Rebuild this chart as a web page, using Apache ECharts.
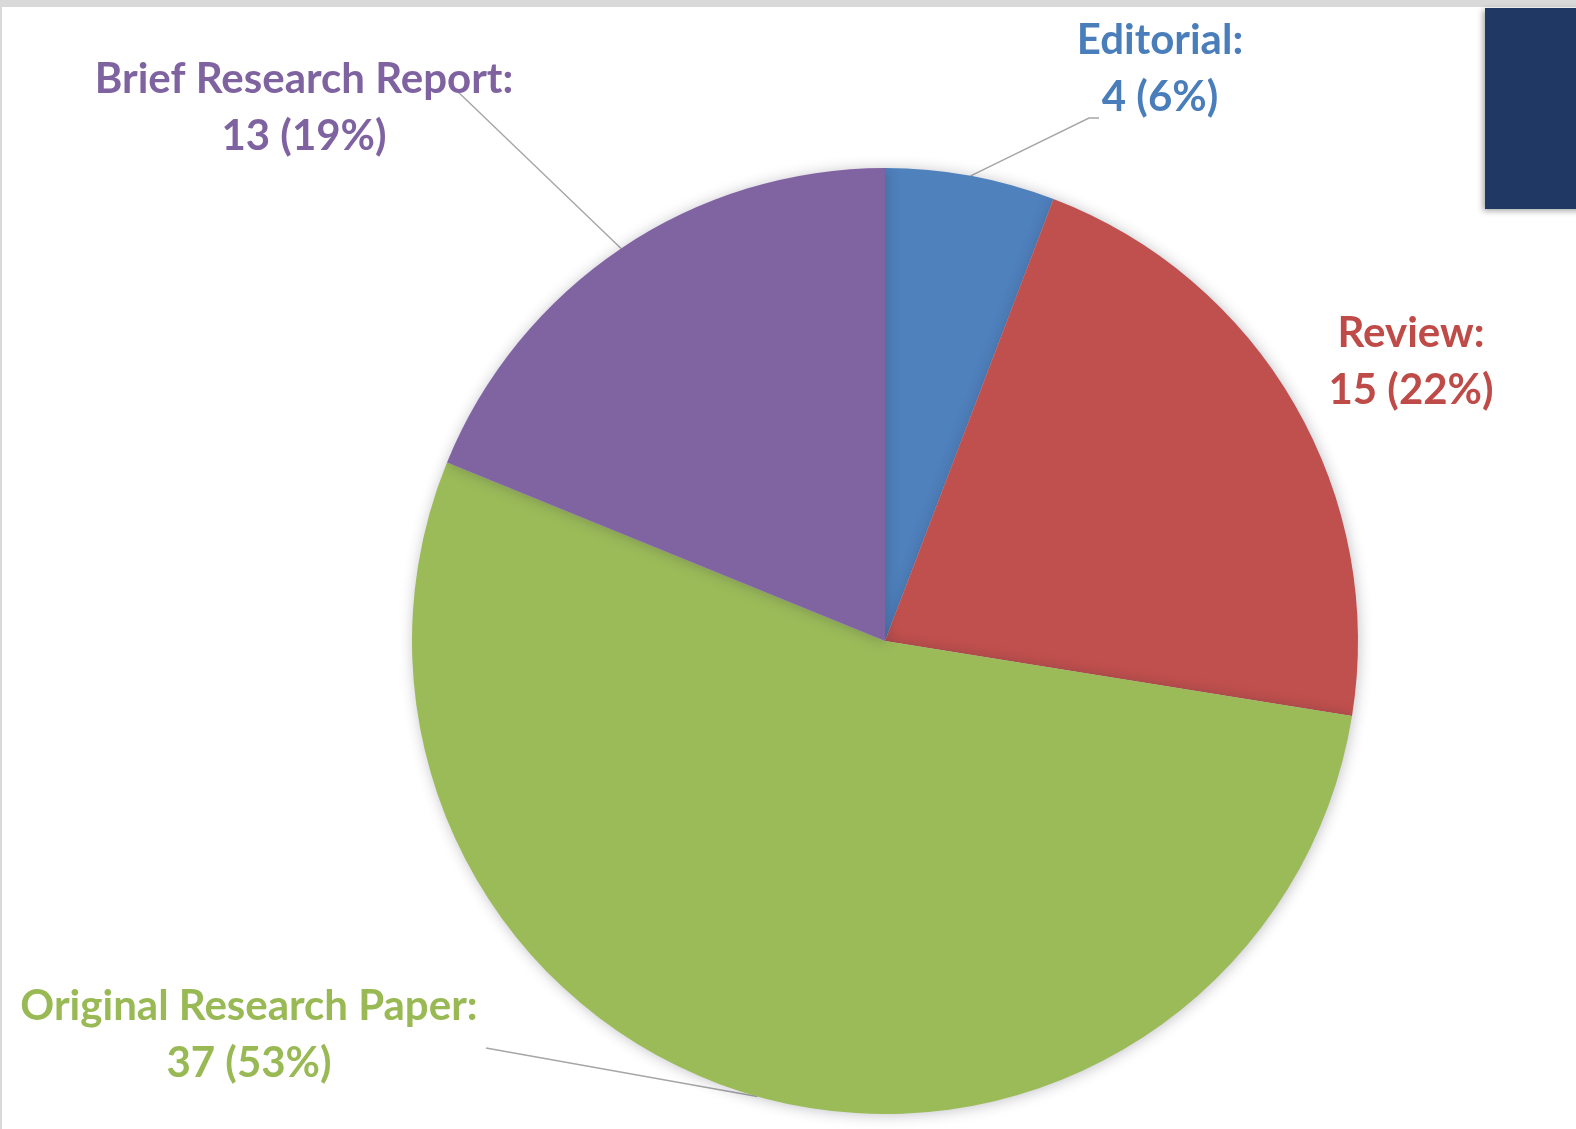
<!DOCTYPE html>
<html>
<head>
<meta charset="utf-8">
<title>Article types</title>
<script src="https://cdn.jsdelivr.net/npm/echarts@6/dist/echarts.min.js"></script>
<style>
  html, body { margin: 0; padding: 0; background: #ffffff; }
  #chart { width: 1576px; height: 1129px; }
</style>
</head>
<body>
<div id="chart"></div>
<script>
// Article types and counts, clockwise from 12 o'clock
const categories = ['Editorial', 'Review', 'Original Research Paper', 'Brief Research Report'];
const counts = [4, 15, 37, 13];

// Slice and label colours
const sliceColors = ['#4f81bd', '#c0504d', '#9bbb59', '#8064a2'];
const textColors = ['#4a7ebb', '#be4b48', '#98b954', '#7f63a1'];

// Label block centres (px) and leader-line end points near each label
const labelCenters = [[1160, 69], [1411, 362], [249, 1035], [304, 108]];
const leaderEnds = [[[1089, 118], [1099, 118]], null, [[486, 1048]], [[454, 88]]];

const chart = echarts.init(document.getElementById('chart'), null, { renderer: 'canvas' });

const data = categories.map((name, i) => ({
  name: name,
  value: counts[i],
  itemStyle: { color: sliceColors[i] },
  label: { color: textColors[i] },
  labelLine: { show: leaderEnds[i] !== null }
}));

chart.setOption({
  backgroundColor: '#ffffff',
  animation: false,
  graphic: [
    { type: 'rect', shape: { x: 0, y: 0, width: 1576, height: 7 }, style: { fill: '#d9d9d9' }, silent: true },
    { type: 'rect', shape: { x: 0, y: 0, width: 2, height: 1129 }, style: { fill: '#d9d9d9' }, silent: true },
    {
      type: 'rect',
      shape: { x: 1485, y: 8, width: 100, height: 201 },
      style: { fill: '#203864', shadowBlur: 6, shadowColor: 'rgba(0,0,0,0.35)', shadowOffsetX: -2, shadowOffsetY: 2 },
      silent: true
    }
  ],
  series: [{
    type: 'pie',
    center: [885, 641],
    radius: 473,
    startAngle: 90,
    clockwise: true,
    percentPrecision: 0,
    avoidLabelOverlap: false,
    data: data,
    itemStyle: {
      borderWidth: 0,
      shadowBlur: 14,
      shadowColor: 'rgba(40,40,60,0.28)',
      shadowOffsetX: 1,
      shadowOffsetY: 1
    },
    label: {
      show: true,
      position: 'outside',
      formatter: '{b}:\n{c} ({d}%)',
      fontFamily: 'Lato, "Open Sans", sans-serif',
      fontWeight: 'bold',
      fontSize: 42,
      lineHeight: 57,
      align: 'center'
    },
    labelLine: {
      show: true,
      lineStyle: { color: '#a6a6a6', width: 1.4 }
    },
    labelLayout: function (params) {
      const i = params.dataIndex;
      const out = {
        x: labelCenters[i][0],
        y: labelCenters[i][1],
        align: 'center',
        verticalAlign: 'middle'
      };
      if (leaderEnds[i] && params.labelLinePoints) {
        out.labelLinePoints = [params.labelLinePoints[0]].concat(leaderEnds[i]);
      }
      return out;
    },
    emphasis: { disabled: true }
  }]
});
</script>
</body>
</html>
